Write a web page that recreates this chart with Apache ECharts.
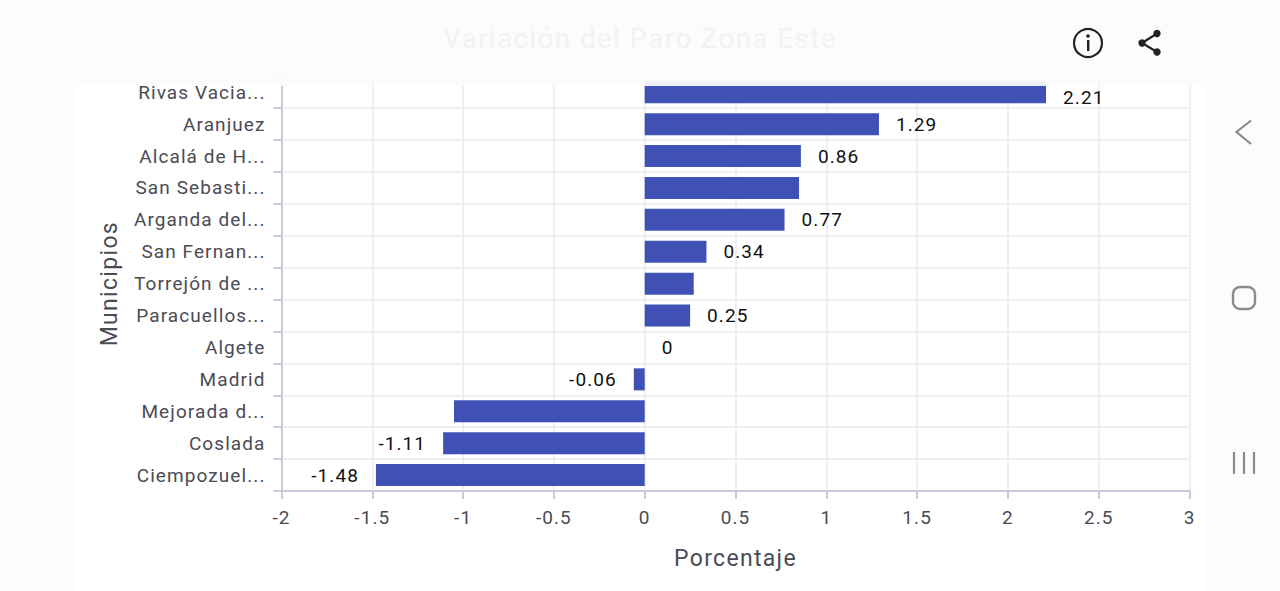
<!DOCTYPE html>
<html><head><meta charset="utf-8">
<style>html,body{margin:0;padding:0;background:#fcfcfc}#c{width:1280px;height:591px}#c text{letter-spacing:.057em}</style>
<script src="https://cdn.jsdelivr.net/npm/echarts@6/dist/echarts.min.js"></script>
</head><body><div id="c"></div>
<script>
const categories = ['Ciempozuel...','Coslada','Mejorada d...','Madrid','Algete','Paracuellos...','Torrejón de ...','San Fernan...','Arganda del...','San Sebasti...','Alcalá de H...','Aranjuez','Rivas Vacia...'];
const values = [-1.48,-1.11,-1.05,-0.06,0,0.25,0.27,0.34,0.77,0.85,0.86,1.29,2.21];
const hiddenLabels = ['Mejorada d...','Torrejón de ...','San Sebasti...'];
const titleText = 'Variación del Paro Zona Este';
const xName = 'Porcentaje';
const yName = 'Municipios';
const FONT = 'Roboto';
const axisColor = '#c9c9dc', gridColor = '#e8e8ef', textColor = '#4b4b55', navColor = '#8b8b8b', iconColor = '#222222';

const chart = echarts.init(document.getElementById('c'), null, {renderer:'svg'});
chart.setOption({
  backgroundColor:'#fcfcfc',
  animation:false,
  title:{text:titleText,left:635,top:20,textAlign:'center',z:100,
    textStyle:{fontFamily:FONT,fontSize:27.4,fontWeight:400,color:'#f2f2f4'}},
  grid:{left:281.5,right:90.5,top:76.3,height:414.7,containLabel:false},
  xAxis:{type:'value',min:-2,max:3,interval:0.5,
    name:xName,nameLocation:'middle',nameGap:56,
    nameTextStyle:{fontFamily:FONT,fontSize:23,color:textColor},
    axisLine:{show:true,onZero:false,lineStyle:{color:axisColor,width:2}},
    axisTick:{show:true,length:8,lineStyle:{color:axisColor,width:2}},
    axisLabel:{fontFamily:FONT,fontSize:19,color:textColor,margin:17,hideOverlap:false,showMinLabel:true,showMaxLabel:true},
    splitLine:{show:true,lineStyle:{color:gridColor,width:1.5}}},
  yAxis:{type:'category',data:categories,
    name:yName,nameLocation:'middle',nameGap:161,
    nameTextStyle:{fontFamily:FONT,fontSize:23,color:textColor},
    axisLine:{show:true,onZero:false,lineStyle:{color:axisColor,width:2}},
    axisTick:{show:true,length:8,alignWithLabel:false,lineStyle:{color:axisColor,width:2}},
    axisLabel:{fontFamily:FONT,fontSize:19,color:textColor,margin:16,interval:0,padding:[4,0,0,0]},
    splitLine:{show:true,lineStyle:{color:gridColor,width:1.5}}},
  series:[{type:'bar',barWidth:22,clip:false,z:3,
    itemStyle:{color:'#3f51b5'},
    data:values.map((v,i)=>({value:v,label:{
      show:!hiddenLabels.includes(categories[i]),
      position:v<0?'left':'right',distance:17,
      offset:i===categories.length-1?[0,5]:[0,0],
      fontFamily:FONT,fontSize:19,color:'#111111'}}))}],
  graphic:[
    {type:'rect',silent:true,z:-10,shape:{x:74,y:0,width:1132,height:591},style:{fill:'#ffffff'}},
    {type:'rect',silent:true,z:50,shape:{x:0,y:0,width:1280,height:86},style:{fill:'rgba(252,252,253,0.93)'}},
    {type:'circle',silent:true,z:60,shape:{cx:1088,cy:43,r:14},style:{fill:'none',stroke:iconColor,lineWidth:2.2}},
    {type:'circle',silent:true,z:60,shape:{cx:1088,cy:36,r:1.8},style:{fill:iconColor}},
    {type:'rect',silent:true,z:60,shape:{x:1087,y:40,width:2.4,height:11},style:{fill:iconColor}},
    {type:'polyline',silent:true,z:60,shape:{points:[[1157,33.5],[1142,43],[1157,52]]},style:{fill:'none',stroke:iconColor,lineWidth:2.2}},
    {type:'circle',silent:true,z:60,shape:{cx:1157,cy:33.5,r:3.7},style:{fill:iconColor}},
    {type:'circle',silent:true,z:60,shape:{cx:1142,cy:43,r:3.7},style:{fill:iconColor}},
    {type:'circle',silent:true,z:60,shape:{cx:1157,cy:52,r:3.7},style:{fill:iconColor}},
    {type:'polyline',silent:true,z:60,shape:{points:[[1251,120.5],[1236.5,132],[1251,144]]},style:{fill:'none',stroke:navColor,lineWidth:2.2}},
    {type:'rect',silent:true,z:60,shape:{x:1233,y:287,width:22,height:22,r:7},style:{fill:'none',stroke:navColor,lineWidth:2.4}},
    {type:'line',silent:true,z:60,shape:{x1:1234,y1:452,x2:1234,y2:474},style:{stroke:navColor,lineWidth:2.2}},
    {type:'line',silent:true,z:60,shape:{x1:1244,y1:452,x2:1244,y2:474},style:{stroke:navColor,lineWidth:2.2}},
    {type:'line',silent:true,z:60,shape:{x1:1254,y1:452,x2:1254,y2:474},style:{stroke:navColor,lineWidth:2.2}}
  ]
});
</script></body></html>
